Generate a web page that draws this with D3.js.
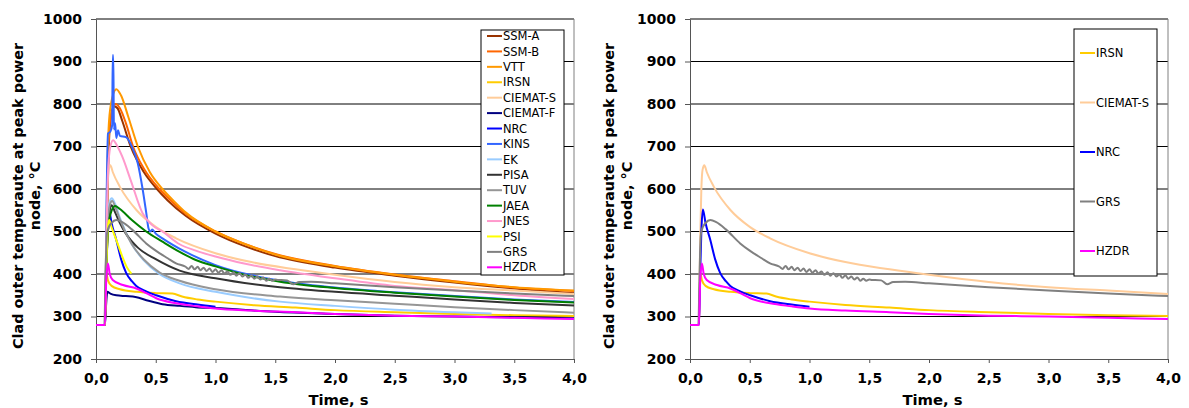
<!DOCTYPE html>
<html>
<head>
<meta charset="utf-8">
<script src="https://cdn.jsdelivr.net/npm/d3@7"></script>
<style>
  body { margin: 0; background: #fff; }
  svg text { font-family: "DejaVu Sans", Verdana, sans-serif; }
</style>
</head>
<body>
<svg id="chart" width="1189" height="408"></svg>
<script>
////////////////////////////////////////////////////////////////////////////////
///////////////////////////////////////////////////////////////////////// Data
////////////////////////////////////////////////////////////////////////////////

// axis ticks
const xTicks = [0, 0.5, 1, 1.5, 2, 2.5, 3, 3.5, 4];
const xTickLabels = ["0,0", "0,5", "1,0", "1,5", "2,0", "2,5", "3,0", "3,5", "4,0"];
const yTicks = [200, 300, 400, 500, 600, 700, 800, 900, 1000];

// series, [time s, temperature °C]
const ssmA = [[0,280],[0.075,280],[0.085,400],[0.095,560],[0.105,680],[0.12,760],[0.15,795],[0.18,790],[0.22,760],[0.29,700],[0.4,640],[0.51,600],[0.6,573],[0.75,537],[1.0,495],[1.25,465],[1.5,442],[2.0,415],[2.5,396],[3.0,380],[3.5,366],[4.0,355]];
const ssmB = [[0,280],[0.075,280],[0.085,420],[0.095,600],[0.105,700],[0.12,765],[0.165,800],[0.2,790],[0.25,755],[0.31,700],[0.4,648],[0.53,600],[0.6,580],[0.75,542],[1.0,500],[1.25,470],[1.5,447],[2.0,419],[2.5,399],[3.0,383],[3.5,368],[4.0,360]];
const vtt = [[0,280],[0.075,280],[0.085,450],[0.095,640],[0.105,740],[0.125,800],[0.17,835],[0.21,820],[0.27,770],[0.35,700],[0.45,640],[0.556,600],[0.65,572],[0.75,545],[1.0,500],[1.25,470],[1.5,446],[2.0,418],[2.5,398],[3.0,382],[3.5,369],[4.0,361]];
const irsn = [[0,280],[0.075,280],[0.08,350],[0.086,402],[0.1,385],[0.13,372],[0.2,364],[0.34,358],[0.5,355],[0.64,354],[0.72,347],[0.85,340],[1.0,335],[1.3,327],[1.67,321],[2.0,315],[2.5,310],[3.0,306],[3.5,303],[4.0,301]];
const ciematS = [[0,280],[0.075,280],[0.085,480],[0.095,600],[0.105,645],[0.12,656],[0.14,640],[0.2,605],[0.34,550],[0.5,511],[0.67,484],[1.0,449],[1.3,428],[1.67,411],[2.0,398],[2.5,381],[3.0,369],[3.5,361],[4.0,353]];
const ciematF = [[0,280],[0.075,280],[0.085,330],[0.095,358],[0.12,354],[0.17,350],[0.25,348],[0.33,346],[0.44,337],[0.556,329],[0.7,325],[0.835,322],[1.0,320],[1.5,311],[2.0,306],[2.5,302],[3.0,300],[3.5,298],[4.0,296]];
const nrc = [[0,280],[0.075,280],[0.085,400],[0.095,500],[0.108,552],[0.13,520],[0.17,480],[0.21,435],[0.253,402],[0.3,383],[0.337,372],[0.42,359],[0.504,350],[0.67,336],[0.85,328],[1.0,323]];
const kins = [[0,280],[0.075,280],[0.09,600],[0.1,730],[0.12,735],[0.135,750],[0.14,915],[0.145,915],[0.15,740],[0.16,755],[0.17,720],[0.185,738],[0.2,725],[0.25,722],[0.3,700],[0.35,660],[0.39,600],[0.42,545],[0.44,507],[0.455,500],[0.47,505],[0.5,495],[0.556,484],[0.75,452],[1.0,421],[1.5,386],[2.0,368],[2.5,357],[3.0,348],[3.5,340],[4.0,334]];
const ek = [[0,280],[0.075,280],[0.085,420],[0.1,530],[0.115,570],[0.132,578],[0.16,565],[0.2,532],[0.3,470],[0.4,432],[0.53,400],[0.7,378],[1.0,358],[1.54,335],[2.0,325],[2.5,316],[3.0,310],[3.31,307]];
const pisa = [[0,280],[0.075,280],[0.085,400],[0.1,500],[0.115,550],[0.13,562],[0.16,545],[0.2,520],[0.25,495],[0.35,462],[0.5,435],[0.7,408],[1.0,390],[1.5,370],[2.0,358],[2.5,349],[3.0,340],[3.5,332],[4.0,326]];
const tuv = [[0,280],[0.075,280],[0.085,420],[0.1,525],[0.115,562],[0.135,572],[0.165,555],[0.2,528],[0.3,470],[0.4,434],[0.53,404],[0.7,384],[1.0,364],[1.54,347],[2.0,338],[2.5,330],[3.0,322],[3.5,315],[4.0,309]];
const jaea = [[0,280],[0.075,280],[0.085,400],[0.1,500],[0.12,540],[0.16,560],[0.2,553],[0.3,527],[0.42,500],[0.556,476],[0.7,452],[0.835,433],[1.0,418],[1.25,398],[1.54,382],[2.0,367],[2.5,356],[3.0,347],[3.5,339],[4.0,333]];
const jnes = [[0,280],[0.075,280],[0.085,450],[0.1,640],[0.12,700],[0.143,715],[0.18,700],[0.22,676],[0.29,621],[0.39,543],[0.47,515],[0.556,500],[0.7,470],[0.835,455],[1.0,441],[1.25,424],[1.54,409],[2.0,390],[2.5,372],[3.0,362],[3.5,350],[4.0,341]];
const psi = [[0,280],[0.075,280],[0.085,400],[0.1,510],[0.11,527],[0.13,510],[0.165,484],[0.22,441],[0.26,415],[0.296,401]];
const grs = [[0,280],[0.07,280],[0.08,400],[0.09,490],[0.1,505],[0.13,520],[0.17,527],[0.22,522],[0.3,505],[0.42,472],[0.5,455],[0.6,437],[0.67,425],[0.75,417],
  [0.775,412],[0.8,419],[0.825,411],[0.85,417],[0.875,409],[0.9,415],[0.925,407],[0.95,413],[0.975,405],[1.0,411],[1.025,403],[1.05,409],[1.075,401],[1.1,406],
  [1.125,398],[1.15,404],[1.175,396],[1.2,402],[1.225,394],[1.25,399],[1.275,391],[1.3,397],[1.325,389],[1.35,394],[1.375,387],[1.4,392],[1.425,384],[1.45,389],
  [1.475,384],[1.5,387],[1.525,386],[1.55,386],[1.6,385],[1.65,376],[1.7,381],[1.8,382],[2.0,378],[2.5,369],[3.0,361],[3.5,354],[4.0,348]];
const hzdr = [[0,280],[0.075,280],[0.085,380],[0.1,425],[0.115,400],[0.14,386],[0.226,374],[0.337,366],[0.42,355],[0.504,343],[0.67,331],[0.85,324],[1.0,319],[1.3,314],[1.67,310],[2.0,306],[2.5,302],[3.0,300],[3.5,297],[4.0,294]];

// series per panel, in drawing order
const leftSeries = ["SSM-A", "SSM-B", "VTT", "IRSN", "CIEMAT-S", "CIEMAT-F", "NRC", "KINS", "EK", "PISA", "TUV", "JAEA", "JNES", "PSI", "GRS", "HZDR"];
const rightSeries = ["IRSN", "CIEMAT-S", "NRC", "GRS", "HZDR"];

const seriesData = {
  "SSM-A": ssmA, "SSM-B": ssmB, "VTT": vtt, "IRSN": irsn, "CIEMAT-S": ciematS,
  "CIEMAT-F": ciematF, "NRC": nrc, "KINS": kins, "EK": ek, "PISA": pisa,
  "TUV": tuv, "JAEA": jaea, "JNES": jnes, "PSI": psi, "GRS": grs, "HZDR": hzdr
};

////////////////////////////////////////////////////////////////////////////////
//////////////////////////////////////////////////////////////////////// Style
////////////////////////////////////////////////////////////////////////////////

const colors = {
  "SSM-A": "#993300", "SSM-B": "#FF6600", "VTT": "#FF9900", "IRSN": "#FFCC00",
  "CIEMAT-S": "#FFCC99", "CIEMAT-F": "#000080", "NRC": "#0000FF", "KINS": "#3366FF",
  "EK": "#99CCFF", "PISA": "#333333", "TUV": "#969696", "JAEA": "#008000",
  "JNES": "#FF99CC", "PSI": "#FFFF00", "GRS": "#808080", "HZDR": "#FF00FF"
};

const marginTop = 19;
const width = 478;
const height = 340;
const font = '"DejaVu Sans", Verdana, sans-serif';

const svg = d3.select("#chart");

////////////////////////////////////////////////////////////////////////////////
//////////////////////////////////////////////////////////////////////// Panels
////////////////////////////////////////////////////////////////////////////////

function drawPanel(cfg) {
  const g = svg.append("g")
                 .attr("transform", `translate(${cfg.left},${marginTop})`);

  const xScale = d3.scaleLinear().domain([0, 4]).range([0, width]);
  const yScale = d3.scaleLinear().domain([200, 1000]).range([height, 0]);

  // gridlines
  g.selectAll(".grid")
    .data(yTicks.filter(d => d > 200))
    .join("line")
      .attr("class", "grid")
      .attr("x1", 0)
      .attr("x2", width)
      .attr("y1", d => yScale(d))
      .attr("y2", d => yScale(d))
      .attr("stroke", "#000")
      .attr("stroke-width", 1);

  // right border of plot area
  g.append("line")
     .attr("x1", width).attr("x2", width)
     .attr("y1", 0).attr("y2", height)
     .attr("stroke", "#808080");

  // X-axis
  g.append("g")
     .attr("transform", `translate(0,${height})`)
     .call(d3.axisBottom(xScale)
             .tickValues(xTicks)
             .tickFormat((d, i) => xTickLabels[i])
             .tickSize(4)
             .tickSizeOuter(0)
             .tickPadding(10))
     .call(styleAxis);

  // Y-axis
  g.append("g")
     .call(d3.axisLeft(yScale)
             .tickValues(yTicks)
             .tickFormat(d3.format("d"))
             .tickSize(5)
             .tickSizeOuter(0)
             .tickPadding(9))
     .call(styleAxis);

  // lines
  const line = d3.line()
                 .x(d => xScale(d[0]))
                 .y(d => yScale(d[1]))
                 .curve(d3.curveMonotoneX);

  g.selectAll(".series")
    .data(cfg.series)
    .join("path")
      .attr("class", "series")
      .attr("fill", "none")
      .attr("stroke", d => colors[d])
      .attr("stroke-width", 2)
      .attr("stroke-linejoin", "round")
      .attr("d", d => line(seriesData[d]));

  // Y title, two lines
  cfg.titleLines.forEach((txt, i) => {
    g.append("text")
       .attr("transform", "rotate(-90)")
       .attr("x", -177)
       .attr("y", cfg.titleX[i])
       .attr("text-anchor", "middle")
       .attr("font-family", font)
       .attr("font-weight", "bold")
       .attr("font-size", 14.4)
       .text(txt);
  });

  // X title
  g.append("text")
     .attr("x", width / 2 + 3.5)
     .attr("y", height + 46)
     .attr("text-anchor", "middle")
     .attr("font-family", font)
     .attr("font-weight", "bold")
     .attr("font-size", 14.8)
     .text("Time, s");

  // legend
  const lg = svg.append("g");
  lg.append("rect")
      .attr("x", cfg.legend.x)
      .attr("y", cfg.legend.y)
      .attr("width", cfg.legend.w)
      .attr("height", cfg.legend.h)
      .attr("fill", "#fff")
      .attr("stroke", "#000")
      .attr("stroke-width", 1);

  const item = lg.selectAll(".item")
    .data(cfg.series)
    .join("g")
      .attr("class", "item")
      .attr("transform", (d, i) => `translate(${cfg.legend.x},${cfg.legend.y0 + i * cfg.legend.dy})`);

  item.append("line")
      .attr("x1", 6).attr("x2", cfg.legend.lineEnd)
      .attr("stroke", d => colors[d])
      .attr("stroke-width", 2);

  item.append("text")
      .attr("x", cfg.legend.lineEnd + 1)
      .attr("dy", "0.36em")
      .attr("font-family", font)
      .attr("font-size", 11.5)
      .text(d => d);
}

function styleAxis(a) {
  a.select(".domain").attr("stroke", "#555");
  a.selectAll(".tick line").attr("stroke", "#555");
  a.selectAll(".tick text")
     .attr("fill", "#000")
     .attr("font-family", font)
     .attr("font-size", 14)
     .attr("font-weight", "bold");
}

const titleLines = ["Clad outer temperaute at peak power", "node, °C"];

drawPanel({
  left: 96,
  series: leftSeries,
  titleLines: titleLines,
  titleX: [-73, -56],
  legend: { x: 481, y: 30, w: 83, h: 245, y0: 36, dy: 15.42, lineEnd: 21 }
});

drawPanel({
  left: 690,
  series: rightSeries,
  titleLines: titleLines,
  titleX: [-76, -58],
  legend: { x: 1074, y: 29, w: 83, h: 247, y0: 53, dy: 49.5, lineEnd: 21 }
});
</script>
</body>
</html>
